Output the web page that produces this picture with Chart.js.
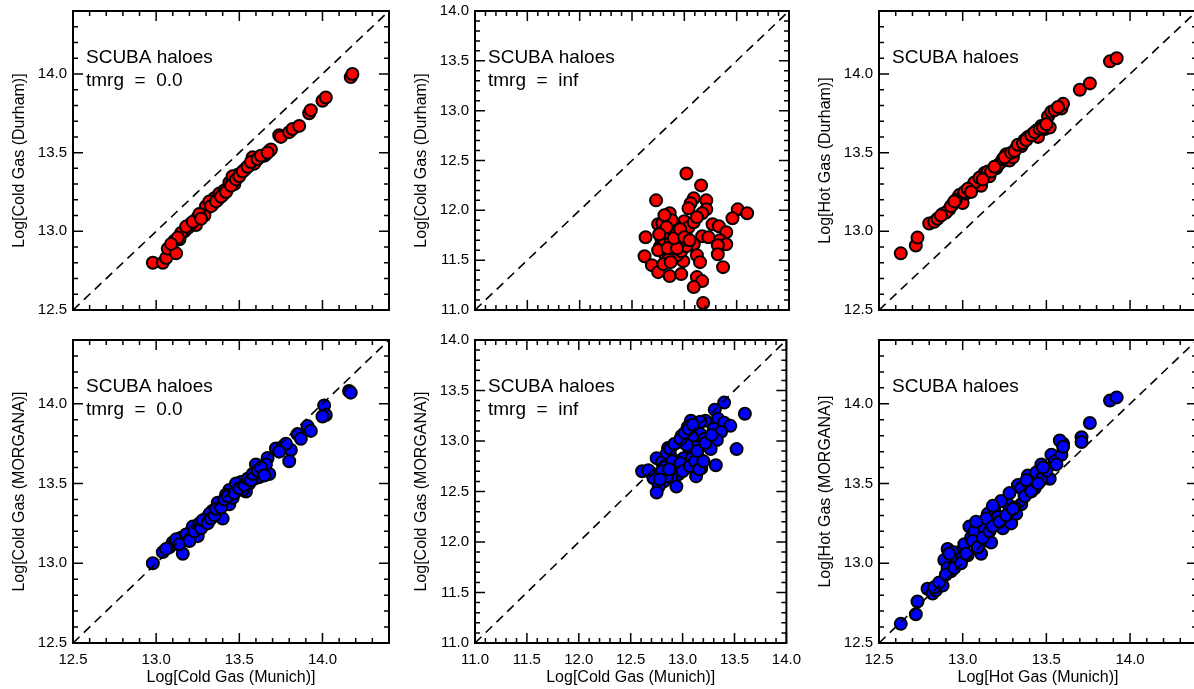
<!DOCTYPE html>
<html><head><meta charset="utf-8">
<script src="https://cdn.jsdelivr.net/npm/chart.js@4.4.1/dist/chart.umd.min.js"></script>
<style>
html,body{margin:0;padding:0;background:#fff;overflow:hidden;width:1194px;height:689px;position:relative;}
canvas{position:absolute;}
</style></head><body>
<canvas id="p1"></canvas><canvas id="p2"></canvas><canvas id="p3"></canvas>
<canvas id="p4"></canvas><canvas id="p5"></canvas><canvas id="p6"></canvas>
<script>
// ---------- DATA ----------
const rangeWide = [12.5, 14.4];
const rangeInf = [11.0, 14.0];
const ticksWide = [12.5, 13.0, 13.5, 14.0];
const ticksInf = [11.0, 11.5, 12.0, 12.5, 13.0, 13.5, 14.0];

// [log cold gas Munich, log cold gas Durham], tmrg = 0.0
const coldDurhamT0 = [[12.98,12.80],[13.04,12.80],[13.06,12.83],[13.07,12.89],[13.12,12.86],[13.11,12.94],[13.14,12.95],[13.17,13.00],[13.19,13.02],[13.24,13.07],[13.25,13.09],[13.24,13.04],[13.28,13.12],[13.31,13.15],[13.34,13.17],[13.35,13.21],[13.38,13.24],[13.40,13.23],[13.43,13.27],[13.44,13.31],[13.46,13.33],[13.47,13.30],[13.49,13.36],[13.51,13.37],[13.54,13.40],[13.56,13.42],[13.58,13.47],[13.60,13.45],[13.62,13.47],[13.65,13.48],[13.68,13.51],[13.69,13.52],[13.74,13.61],[13.75,13.60],[13.80,13.63],[13.82,13.65],[13.86,13.67],[13.92,13.75],[13.93,13.77],[14.00,13.83],[14.02,13.85],[14.17,13.98],[14.18,14.00],[13.30,13.16],[13.37,13.20],[13.41,13.26],[13.53,13.39],[13.59,13.43],[13.66,13.49],[13.21,13.05],[13.29,13.10],[13.32,13.19],[13.46,13.35],
  [13.15,12.99],[13.18,13.03],[13.22,13.06],[13.26,13.11],[13.27,13.08],[13.33,13.16],[13.36,13.19],[13.39,13.22],[13.42,13.25],[13.45,13.29],[13.48,13.33],[13.50,13.35],[13.52,13.38],[13.55,13.41],[13.57,13.44],[13.61,13.46],[13.63,13.48],[13.67,13.50],[13.13,12.96],[13.09,12.92]];

// [log cold gas Munich, log cold gas Durham], tmrg = inf
const coldDurhamInf = [[13.02,12.37],[13.16,12.25],[12.73,12.10],[13.09,12.12],[13.06,12.07],[13.21,12.10],[13.04,12.02],[13.21,12.01],[13.17,11.97],[12.86,11.97],[13.51,12.01],[13.60,11.97],[13.46,11.92],[13.00,11.89],[13.27,11.86],[13.33,11.84],[12.75,11.86],[13.40,11.78],[12.63,11.73],[13.17,11.74],[13.23,11.73],[13.34,11.70],[13.40,11.66],[13.32,11.65],[13.09,11.66],[12.62,11.54],[13.32,11.56],[13.12,11.55],[12.99,11.49],[13.15,11.48],[12.69,11.45],[12.75,11.38],[13.37,11.43],[12.86,11.34],[12.97,11.36],[13.12,11.33],[13.17,11.29],[13.09,11.23],[13.18,11.07],[12.80,11.79],[12.86,11.80],[12.89,11.74],[12.94,11.70],[12.83,11.67],[12.77,11.64],[12.96,11.64],[12.88,11.60],[12.82,11.55],[12.93,11.55],[12.85,11.51],[12.80,11.46],[13.01,11.77],[13.04,11.83],[13.09,11.88],[13.12,11.93],[12.78,11.72],[12.91,11.85],[12.97,11.59],[13.02,11.64],[12.75,11.60],
  [12.78,11.78],[12.81,11.70],[12.84,11.76],[12.87,11.68],[12.90,11.80],[12.92,11.66],[12.95,11.75],[12.98,11.70],[12.84,11.62],[12.79,11.87],[12.88,11.90],[12.83,11.83],[12.93,11.62],[12.87,11.48],[12.90,11.72],[12.96,11.81],[13.00,11.73],[12.81,11.95],[13.05,11.70],[12.76,11.76]];

// [log hot gas Munich, log hot gas Durham]
const hotDurham = [[12.63,12.86],[12.72,12.91],[12.73,12.96],[12.80,13.05],[12.83,13.06],[12.88,13.11],[12.92,13.14],[12.94,13.17],[12.98,13.23],[13.00,13.18],[13.04,13.26],[13.06,13.29],[13.09,13.32],[13.11,13.29],[13.13,13.37],[13.16,13.35],[13.20,13.40],[13.23,13.44],[13.26,13.49],[13.28,13.45],[13.30,13.47],[13.32,13.53],[13.35,13.54],[13.39,13.60],[13.42,13.62],[13.44,13.64],[13.47,13.67],[13.49,13.65],[13.52,13.66],[13.51,13.73],[13.53,13.76],[13.59,13.78],[13.60,13.81],[13.70,13.90],[13.76,13.94],[13.88,14.08],[13.92,14.10],[12.96,13.20],[13.02,13.24],[13.15,13.38],[13.21,13.42],[13.37,13.58],[13.45,13.60],[13.01,13.25],[12.90,13.12],[13.07,13.31],
  [12.85,13.08],[12.87,13.10],[12.93,13.16],[12.95,13.19],[13.03,13.27],[13.05,13.25],[13.10,13.34],[13.12,13.33],[13.17,13.38],[13.19,13.41],[13.24,13.46],[13.25,13.47],[13.29,13.50],[13.31,13.51],[13.33,13.55],[13.36,13.56],[13.38,13.58],[13.41,13.61],[13.43,13.63],[13.46,13.65],[13.48,13.66],[13.50,13.68],[13.55,13.77],[13.57,13.79]];

// [log cold gas Munich, log cold gas MORGANA], tmrg = 0.0
const coldMorganaT0 = [[12.98,13.00],[13.04,13.07],[13.10,13.13],[13.16,13.06],[13.15,13.16],[13.21,13.20],[13.25,13.17],[13.22,13.23],[13.26,13.25],[13.30,13.28],[13.34,13.33],[13.37,13.38],[13.38,13.31],[13.40,13.28],[13.44,13.37],[13.46,13.41],[13.44,13.46],[13.49,13.48],[13.51,13.51],[13.54,13.45],[13.56,13.50],[13.59,13.53],[13.62,13.54],[13.60,13.62],[13.64,13.57],[13.68,13.56],[13.67,13.66],[13.72,13.72],[13.76,13.73],[13.81,13.71],[13.80,13.64],[13.78,13.75],[13.85,13.81],[13.87,13.78],[13.91,13.86],[13.93,13.83],[14.01,13.99],[14.02,13.93],[14.00,13.92],[14.16,14.08],[14.17,14.07],[13.08,13.10],[13.13,13.12],[13.19,13.16],[13.32,13.31],[13.29,13.25],[13.42,13.43],[13.52,13.46],[13.66,13.62],[13.74,13.70],
  [13.06,13.09],[13.12,13.15],[13.14,13.12],[13.18,13.18],[13.20,13.14],[13.23,13.20],[13.27,13.22],[13.28,13.27],[13.31,13.25],[13.33,13.28],[13.35,13.30],[13.36,13.34],[13.39,13.35],[13.41,13.40],[13.43,13.42],[13.47,13.44],[13.48,13.50],[13.50,13.47],[13.53,13.49],[13.55,13.53],[13.57,13.52],[13.58,13.56],[13.61,13.58],[13.63,13.60],[13.65,13.55]];

// [log cold gas Munich, log cold gas MORGANA], tmrg = inf
const coldMorganaInf = [[13.40,13.38],[13.31,13.31],[13.60,13.27],[13.22,13.20],[13.08,13.20],[13.17,13.19],[13.34,13.22],[13.40,13.18],[13.46,13.15],[13.05,13.14],[13.30,13.12],[13.37,13.09],[13.17,13.07],[13.09,13.04],[12.99,13.05],[13.26,13.01],[13.33,13.01],[12.96,12.99],[13.12,12.94],[13.27,12.92],[13.52,12.92],[12.86,12.93],[13.07,12.89],[13.15,12.84],[13.01,12.83],[12.75,12.83],[12.80,12.79],[12.83,12.74],[12.93,12.74],[13.04,12.74],[13.18,12.73],[13.32,12.76],[12.61,12.70],[12.70,12.68],[12.96,12.67],[12.89,12.63],[13.13,12.65],[12.72,12.63],[12.82,12.60],[12.94,12.55],[12.77,12.55],[12.75,12.49],[12.85,12.65],[13.09,12.83],[12.67,12.71],[12.89,12.84],[13.04,12.96],[13.21,13.02],
  [12.85,12.88],[12.88,12.92],[12.92,12.97],[12.98,13.02],[13.02,13.08],[13.06,13.12],[13.10,13.16],[12.90,12.80],[12.98,12.78],[13.00,12.70],[13.07,12.75],[13.12,12.80],[13.16,12.72],[13.20,12.80],[13.14,12.90],[12.80,12.70],[12.87,12.72],[12.78,12.62],[13.22,12.98],[13.28,13.06]];

// [log hot gas Munich, log hot gas MORGANA]
const hotMorgana = [[12.63,12.62],[12.72,12.68],[12.73,12.76],[12.79,12.84],[12.82,12.81],[12.84,12.83],[12.88,12.86],[12.89,13.02],[12.91,13.09],[12.93,12.95],[12.96,12.99],[12.98,13.07],[12.94,13.07],[13.01,13.12],[13.04,13.23],[13.05,13.16],[13.07,13.20],[13.10,13.12],[13.11,13.06],[13.03,13.05],[13.13,13.22],[13.15,13.31],[13.17,13.13],[13.20,13.24],[13.19,13.33],[13.24,13.22],[13.27,13.37],[13.29,13.25],[13.23,13.39],[13.32,13.31],[13.35,13.37],[13.33,13.49],[13.35,13.47],[13.39,13.55],[13.40,13.48],[13.43,13.47],[13.44,13.57],[13.47,13.62],[13.49,13.55],[13.52,13.53],[13.53,13.68],[13.55,13.64],[13.59,13.68],[13.60,13.75],[13.58,13.77],[13.60,13.73],[13.71,13.79],[13.71,13.76],[13.76,13.88],[13.88,14.02],[13.92,14.04],[12.97,13.02],[13.06,13.14],[13.14,13.28],[13.21,13.29],[13.31,13.35],[13.47,13.53],[12.91,12.97],[13.00,13.04],
  [12.83,12.85],[12.86,12.88],[12.90,12.93],[12.95,12.97],[12.99,13.00],[13.02,13.06],[13.09,13.10],[13.12,13.16],[13.16,13.20],[13.18,13.23],[13.22,13.26],[13.26,13.30],[13.30,13.34],[13.37,13.42],[13.41,13.45],[13.45,13.50],[13.50,13.58],[13.56,13.62],[12.92,13.06],[13.08,13.26],[13.18,13.36],[13.28,13.44],[13.38,13.52],[13.48,13.60]];

// ---------- LAYOUT ----------
const Y_W = 73, X_H = 46, PAD_T = 12, PAD_R = 20, PAD_B = 12;
Chart.defaults.color = '#000';
Chart.defaults.font.family = '"Liberation Sans", Arial, sans-serif';

const framePlugin = {
  id: 'frame',
  afterDraw(chart, args, opts) {
    const ctx = chart.ctx, a = chart.chartArea;
    const xs = chart.scales.x, ys = chart.scales.y;
    ctx.save();
    ctx.strokeStyle = '#000';
    ctx.lineCap = 'butt';
    ctx.lineWidth = 1.5;
    const drawTicks = (scale, horiz) => {
      const lo = scale.min, hi = scale.max;
      for (let k = Math.ceil(lo * 10 - 1e-6); k <= Math.floor(hi * 10 + 1e-6); k++) {
        const v = k / 10;
        const major = Math.abs(v * 2 - Math.round(v * 2)) < 1e-6;
        const len = major ? 10 : 5;
        const p = scale.getPixelForValue(v);
        ctx.beginPath();
        if (horiz) {
          ctx.moveTo(p, a.bottom); ctx.lineTo(p, a.bottom - len);
          ctx.moveTo(p, a.top); ctx.lineTo(p, a.top + len);
        } else {
          ctx.moveTo(a.left, p); ctx.lineTo(a.left + len, p);
          ctx.moveTo(a.right, p); ctx.lineTo(a.right - len, p);
        }
        ctx.stroke();
      }
    };
    drawTicks(xs, true);
    drawTicks(ys, false);
    ctx.lineWidth = 2;
    ctx.strokeRect(a.left, a.top, a.right - a.left, a.bottom - a.top);
    ctx.fillStyle = '#000';
    ctx.font = '19px "Liberation Sans", Arial, sans-serif';
    ctx.textAlign = 'left';
    ctx.textBaseline = 'middle';
    (opts.lines || []).forEach((t, i) => ctx.fillText(t, a.left + 13, a.top + 47 + i * 23));
    ctx.restore();
  }
};

function makePanel(id, cfg) {
  const cv = document.getElementById(id);
  const W = Y_W + cfg.w + PAD_R;
  const H = PAD_T + cfg.h + (cfg.xTitle ? X_H : PAD_B);
  cv.width = W; cv.height = H;
  cv.style.width = W + 'px'; cv.style.height = H + 'px';
  cv.style.left = (cfg.left - Y_W) + 'px'; cv.style.top = (cfg.top - PAD_T) + 'px';
  const tickFont = {size: 15, family: '"Liberation Sans", Arial, sans-serif'};
  const titleFont = {size: 16, family: '"Liberation Sans", Arial, sans-serif'};
  new Chart(cv, {
    type: 'scatter',
    data: {datasets: [
      {label: 'one-to-one', data: [{x: cfg.range[0], y: cfg.range[0]}, {x: cfg.range[1], y: cfg.range[1]}],
       showLine: true, borderColor: '#000', borderWidth: 1.6, borderDash: [9, 6], pointRadius: 0, order: 0},
      {label: 'SCUBA haloes', data: cfg.points.map(p => ({x: p[0], y: p[1]})),
       backgroundColor: cfg.color, borderColor: '#000', borderWidth: 2, pointRadius: 6, order: 1}
    ]},
    options: {
      responsive: false, animation: false, devicePixelRatio: 1,
      layout: {padding: {left: 0, top: PAD_T, right: PAD_R, bottom: cfg.xTitle ? 0 : PAD_B}},
      plugins: {legend: {display: false}, tooltip: {enabled: false}, frame: {lines: cfg.lines}},
      scales: {
        x: {
          type: 'linear', min: cfg.range[0], max: cfg.range[1],
          afterBuildTicks: s => { s.ticks = cfg.ticks.map(v => ({value: v})); },
          ticks: {display: !!cfg.xTitle, padding: 8, font: tickFont, maxRotation: 0, autoSkip: false, callback: v => Number(v).toFixed(1)},
          grid: {display: false, drawTicks: false}, border: {display: false},
          title: {display: !!cfg.xTitle, text: cfg.xTitle || '', font: titleFont, padding: {top: 0, bottom: 2}},
          afterFit: s => { s.height = cfg.xTitle ? X_H : 0; }
        },
        y: {
          type: 'linear', min: cfg.range[0], max: cfg.range[1],
          afterBuildTicks: s => { s.ticks = cfg.ticks.map(v => ({value: v})); },
          ticks: {padding: 6, font: tickFont, autoSkip: false, callback: v => Number(v).toFixed(1)},
          grid: {display: false, drawTicks: false}, border: {display: false},
          title: {display: true, text: cfg.yTitle, font: titleFont, padding: {top: 10, bottom: 0}},
          afterFit: s => { s.width = Y_W; }
        }
      }
    },
    plugins: [framePlugin]
  });
}

makePanel('p1', {left: 73, top: 8, w: 316, h: 305, range: rangeWide, ticks: ticksWide, points: coldDurhamT0, color: '#ff0000',
  yTitle: 'Log[Cold Gas (Durham)]', lines: ['SCUBA haloes', 'tmrg  =  0.0']});
makePanel('p2', {left: 475, top: 8, w: 314, h: 305, range: rangeInf, ticks: ticksInf, points: coldDurhamInf, color: '#ff0000',
  yTitle: 'Log[Cold Gas (Durham)]', lines: ['SCUBA haloes', 'tmrg  =  inf']});
makePanel('p3', {left: 879, top: 8, w: 318, h: 305, range: rangeWide, ticks: ticksWide, points: hotDurham, color: '#ff0000',
  yTitle: 'Log[Hot Gas (Durham)]', lines: ['SCUBA haloes']});
makePanel('p4', {left: 73, top: 337, w: 316, h: 306, range: rangeWide, ticks: ticksWide, points: coldMorganaT0, color: '#0000ff',
  yTitle: 'Log[Cold Gas (MORGANA)]', xTitle: 'Log[Cold Gas (Munich)]', lines: ['SCUBA haloes', 'tmrg  =  0.0']});
makePanel('p5', {left: 475, top: 337, w: 314, h: 306, range: rangeInf, ticks: ticksInf, points: coldMorganaInf, color: '#0000ff',
  yTitle: 'Log[Cold Gas (MORGANA)]', xTitle: 'Log[Cold Gas (Munich)]', lines: ['SCUBA haloes', 'tmrg  =  inf']});
makePanel('p6', {left: 879, top: 337, w: 318, h: 306, range: rangeWide, ticks: ticksWide, points: hotMorgana, color: '#0000ff',
  yTitle: 'Log[Hot Gas (MORGANA)]', xTitle: 'Log[Hot Gas (Munich)]', lines: ['SCUBA haloes']});
</script>
</body></html>
